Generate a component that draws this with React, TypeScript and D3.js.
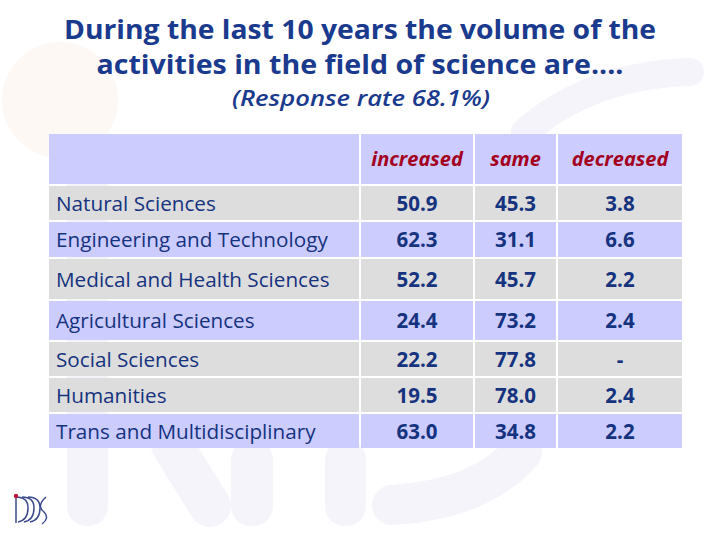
import React from "react";
import * as d3 from "d3";

const titleLines = ["During the last 10 years the volume of the", "activities in the field of science are...."];
const subtitle = "(Response rate 68.1%)";
const columns = ["increased", "same", "decreased"];
const fields = [
  "Natural Sciences",
  "Engineering and Technology",
  "Medical and Health Sciences",
  "Agricultural Sciences",
  "Social Sciences",
  "Humanities",
  "Trans and Multidisciplinary",
];
const increased = ["50.9", "62.3", "52.2", "24.4", "22.2", "19.5", "63.0"];
const same = ["45.3", "31.1", "45.7", "73.2", "77.8", "78.0", "34.8"];
const decreased = ["3.8", "6.6", "2.2", "2.4", "-", "2.4", "2.2"];
const rowShade = ["gray", "lav", "gray", "lav", "gray", "gray", "lav"];

const W = 720;
const H = 540;
const LAV = "#CCCCFE";
const GRAY = "#DDDDDD";
const BLUE = "#15337F";
const TITLE = "#1A3A8E";
const RED = "#A3001F";
const WM = "#F4F4FA";
const FONT = "Open Sans, Noto Sans, sans-serif";

const colEdges = [48, 360, 474, 557, 683];
const rowEdges = [133, 185, 221, 258, 300, 341, 377, 413, 449];

export default function App() {
  const values = [increased, same, decreased];
  const x = d3.scaleOrdinal<number, number>().domain([0, 1, 2, 3]).range(colEdges.slice(0, 4));
  const xEnd = (i: number) => colEdges[i + 1];
  const y = (i: number) => rowEdges[i];
  const gap = 1;
  const titleWidths = [592, 527];
  return (
    <svg width={W} height={H} style={{ position: "absolute", left: 0, top: 0 }}>
      <rect width={W} height={H} fill="#ffffff" />
      {/* faint watermark */}
      <g>
        <circle cx={60} cy={100} r={58} fill="#FEF8F4" />
        <path d="M 525 132 Q 590 75 690 72" stroke={WM} strokeWidth={28} strokeLinecap="round" fill="none" />
        <rect x={67} y={140} width={41} height={386} rx={20} fill={WM} />
        <line x1={172} y1={445} x2={210} y2={506} stroke={WM} strokeWidth={42} strokeLinecap="round" />
        <rect x={231} y={440} width={42} height={86} rx={20} fill={WM} />
        <rect x={325} y={440} width={41} height={86} rx={20} fill={WM} />
        <path d="M 392 505 Q 480 500 522 452" stroke={WM} strokeWidth={40} strokeLinecap="round" fill="none" />
      </g>
      {titleLines.map((t, i) => (
        <text key={i} x={360} y={39 + i * 35} textAnchor="middle" fontFamily={FONT} fontWeight={700}
          fontSize={27} fill={TITLE} textLength={titleWidths[i]} lengthAdjust="spacingAndGlyphs">
          {t}
        </text>
      ))}
      <text x={361} y={106} textAnchor="middle" fontFamily={FONT} fontStyle="italic" fontWeight={600} fontSize={21}
        fill={TITLE} textLength={258} lengthAdjust="spacingAndGlyphs">{subtitle}</text>

      {/* header */}
      {[0, 1, 2, 3].map((c) => (
        <rect key={"h" + c} x={x(c) + gap} y={y(0) + gap} width={xEnd(c) - x(c) - 2 * gap}
          height={y(1) - y(0) - 2 * gap} fill={LAV} />
      ))}
      {columns.map((c, i) => (
        <text key={c} x={(x(i + 1) + xEnd(i + 1)) / 2} y={166} textAnchor="middle" fontFamily={FONT}
          fontStyle="italic" fontWeight={700} fontSize={20} fill={RED}>{c}</text>
      ))}

      {fields.map((f, r) => {
        const top = y(r + 1);
        const bot = y(r + 2);
        const fill = rowShade[r] === "lav" ? LAV : GRAY;
        const cy = (top + bot) / 2 + 7.5;
        return (
          <g key={f}>
            {[0, 1, 2, 3].map((c) => (
              <rect key={c} x={x(c) + gap} y={top + gap} width={xEnd(c) - x(c) - 2 * gap}
                height={bot - top - 2 * gap} fill={fill} />
            ))}
            <text x={56} y={cy} fontFamily={FONT} fontSize={20.7} fill={BLUE}>{f}</text>
            {values.map((v, c) => (
              <text key={c} x={(x(c + 1) + xEnd(c + 1)) / 2} y={cy} textAnchor="middle" fontFamily={FONT}
                fontWeight={700} fontSize={20.5} fill={BLUE}>{v[r]}</text>
            ))}
          </g>
        );
      })}

      {/* logo */}
      <g transform="translate(14,494)" stroke="#3B4A8C" strokeWidth={1.5} fill="none">
        <line x1={2} y1={2} x2={2} y2={29} />
        <path d="M 2 3 Q 14 3 14 14 Q 14 26 4 28" />
        <path d="M 8 3 Q 20 3 20 14 Q 20 26 10 28" />
        <path d="M 14 3 Q 26 3 26 14 Q 26 26 16 28" />
        <path d="M 32 3 Q 22 12 30 18 Q 36 24 28 30" />
        <circle cx={2} cy={2} r={2.2} fill="#C0143C" stroke="none" />
      </g>
    </svg>
  );
}
